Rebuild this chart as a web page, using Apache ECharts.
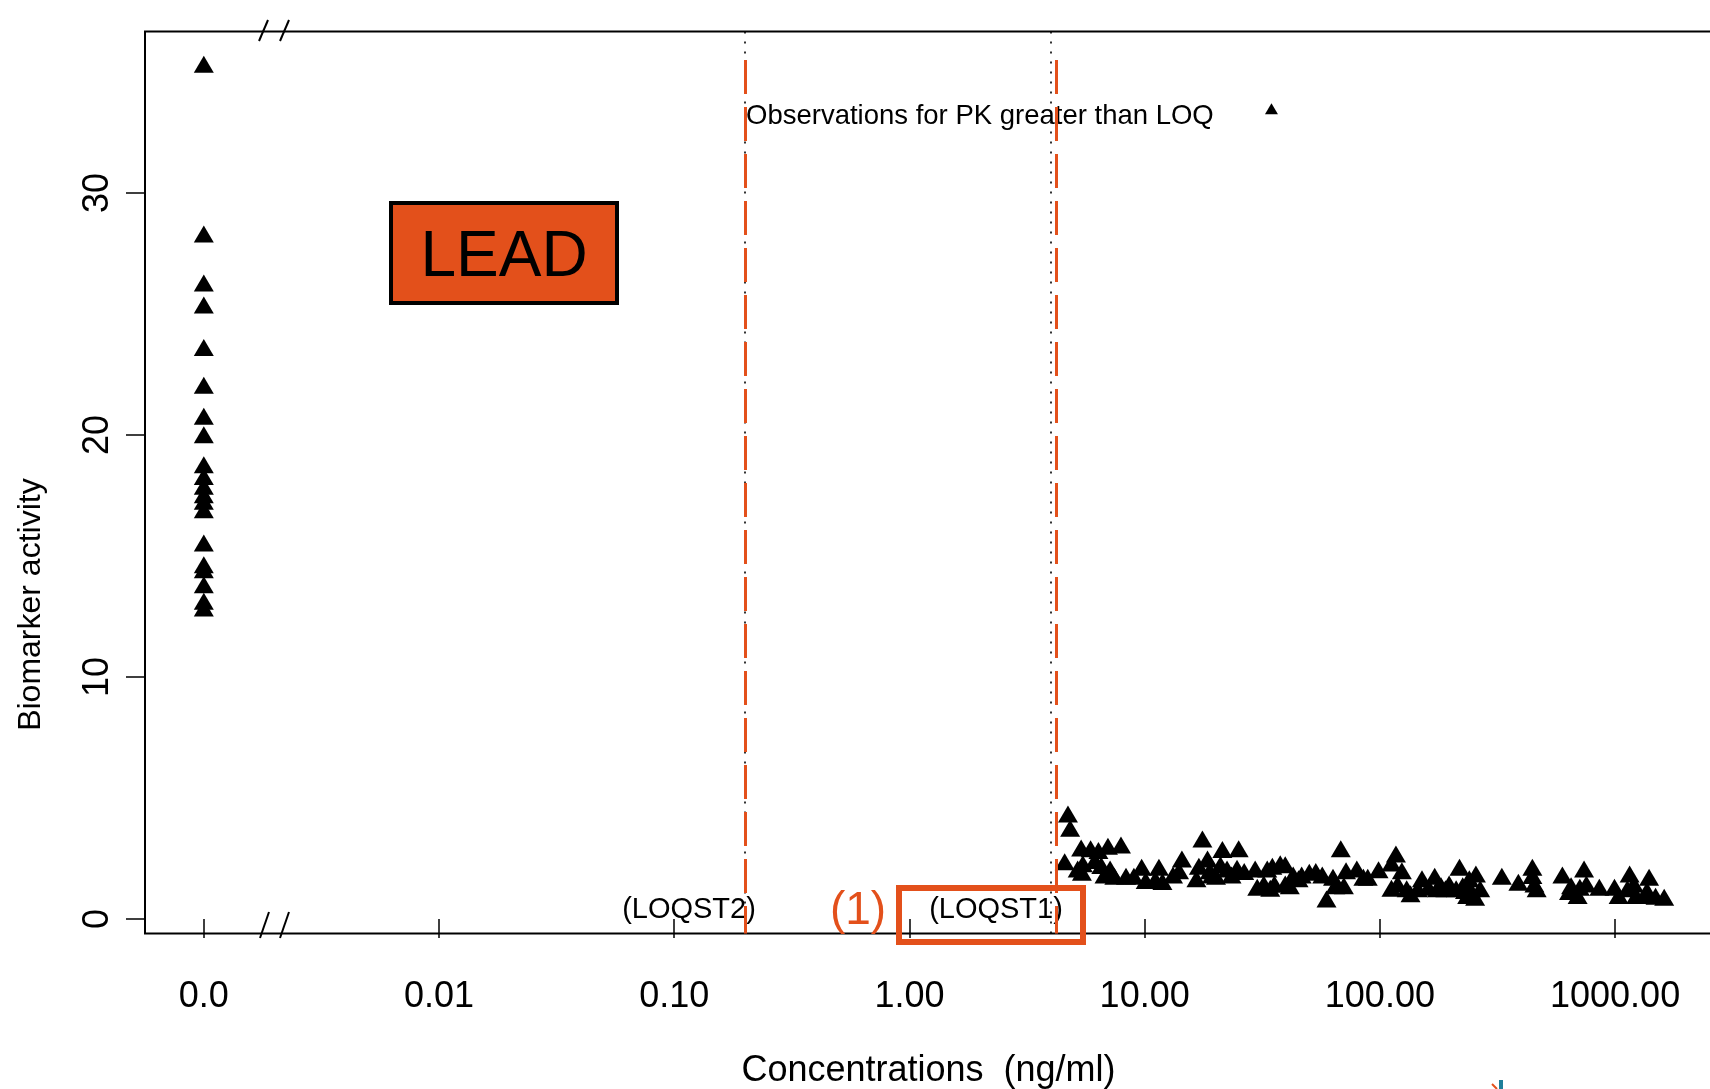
<!DOCTYPE html>
<html>
<head>
<meta charset="utf-8">
<script src="https://cdn.jsdelivr.net/npm/echarts@6/dist/echarts.min.js"></script>
<style>
html,body{margin:0;padding:0;background:#fff;}
#chart{width:1710px;height:1089px;}
</style>
</head>
<body>
<div id="chart"></div>
<script>
// ---------- data ----------
// concentration 0 is shown at the "0.0" position of the log axis
const ZERO_CONC_POSITION = 0.001;
const ZERO_GROUP_ACTIVITY = [35.26, 28.24, 26.22, 25.31, 23.56, 22.00, 20.71, 19.95, 18.71, 18.23,
  17.82, 17.47, 17.20, 16.85, 15.48, 14.58, 14.37, 13.75, 13.07, 12.79];

const PK_CONC = [4.72, 4.82, 4.57, 5.37, 5.46, 5.41, 5.89, 6.36, 6.98, 7.93,
  6.14, 6.54, 7.13, 6.75, 7.43, 8.33, 9.71, 10.1, 11.5, 11.1,
  11.9, 13.2, 14.4, 14.0, 16.6, 17.6, 18.5, 18.9, 19.3, 21.4,
  25.1, 21.0, 22.4, 23.4, 24.7, 26.5, 29.5, 32.1, 33.2, 34.9,
  35.6, 37.7, 39.6, 39.6, 42.8, 46.5, 50.1, 53.4, 56.9, 59.3,
  63.2, 68.2, 64.6, 70.3, 71.8, 79.8, 85.1, 88.8, 98.7, 112,
  117, 124, 112, 119, 135, 151, 171, 182, 197, 218,
  225, 256, 243, 254, 267, 330, 388, 445, 454, 464,
  597, 637, 693, 738, 755, 857, 994, 1153, 1128, 1228,
  1395, 1366, 1617, 1486, 1202, 30.1, 34.2, 41.4, 45.1, 130,
  145, 161, 175, 190, 211, 230, 235, 650, 708, 1035,
  1337, 445, 240, 17.0, 20.1, 9.0, 5.19];
const PK_ACTIVITY = [4.28, 3.69, 2.31, 2.87, 2.22, 1.87, 2.84, 2.77, 2.95, 3.00,
  2.36, 2.15, 2.01, 1.76, 1.71, 1.71, 2.08, 1.53, 2.08, 1.57,
  1.49, 1.76, 2.42, 1.94, 1.60, 3.25, 2.42, 1.94, 1.76, 2.81,
  2.84, 2.18, 2.01, 1.76, 2.04, 1.90, 2.01, 1.39, 2.01, 2.12,
  1.39, 2.22, 2.18, 1.39, 1.76, 1.76, 1.87, 1.90, 1.76, 0.77,
  1.67, 2.84, 1.32, 1.32, 1.94, 2.01, 1.67, 1.67, 1.98, 2.26,
  2.63, 1.94, 1.21, 1.39, 0.98, 1.60, 1.71, 1.32, 1.39, 2.08,
  1.32, 1.80, 1.16, 0.84, 1.19, 1.71, 1.46, 2.08, 1.39, 1.19,
  1.76, 1.08, 0.91, 2.01, 1.39, 1.25, 1.25, 1.80, 1.19, 0.91,
  1.67, 1.12, 0.84, 0.88, 1.39, 1.25, 1.21, 1.32, 1.60, 1.19,
  1.19, 1.25, 1.19, 1.19, 1.19, 1.12, 0.91, 1.32, 1.25, 0.91,
  0.91, 1.74, 1.60, 2.12, 1.71, 1.71, 2.01];

const LEGEND_KEY_POINT = [34.6, 33.44];
const LOQ_VALUES = [0.2, 4.0];          // dotted black reference lines
const HIGHLIGHT_LINE_VALUES = [0.2, 4.2]; // orange dashed overlay lines
const HIGHLIGHT_LINE_TOP = 35.5;

const X_TICK_VALUES = [0.001, 0.01, 0.1, 1, 10, 100, 1000];
const X_TICK_LABELS = ['0.0', '0.01', '0.10', '1.00', '10.00', '100.00', '1000.00'];
const Y_TICK_VALUES = [0, 10, 20, 30];

const X_MIN = Math.pow(10, -3.25);
const X_MAX = Math.pow(10, 3.412);
const Y_MIN = -0.6, Y_MAX = 36.67;

// ---------- chart ----------
const ORANGE = '#E3501B';
const FONT = '"Liberation Sans", Arial, Helvetica, sans-serif';
const chart = echarts.init(document.getElementById('chart'), null, {renderer: 'canvas'});

const zeroData = ZERO_GROUP_ACTIVITY.map(v => [ZERO_CONC_POSITION, v]);
const pkData = PK_CONC.map((c, i) => [c, PK_ACTIVITY[i]]);

function vline(v, top) {
  return [{coord: [v, top]}, {coord: [v, Y_MIN]}];
}

const option = {
  animation: false,
  backgroundColor: '#fff',
  grid: {
    left: 145, top: 31.6, width: 1567, height: 902,
    outerBoundsMode: 'none', containLabel: false,
    show: true, borderColor: '#000', borderWidth: 2, backgroundColor: 'transparent'
  },
  xAxis: {
    type: 'log', logBase: 10, min: X_MIN, max: X_MAX,
    name: 'Concentrations  (ng/ml)', nameLocation: 'middle', nameGap: 119,
    nameTextStyle: {fontFamily: FONT, fontSize: 36, color: '#000'},
    axisLine: {show: false},
    axisTick: {show: true, inside: false, length: 19, customValues: X_TICK_VALUES,
      lineStyle: {color: '#000', width: 1.5}},
    axisLabel: {show: true, margin: 45, customValues: X_TICK_VALUES,
      fontFamily: FONT, fontSize: 36, color: '#000',
      formatter: v => {
        const i = X_TICK_VALUES.findIndex(t => Math.abs(Math.log10(t) - Math.log10(v)) < 1e-6);
        return i >= 0 ? X_TICK_LABELS[i] : '';
      }},
    splitLine: {show: false}, minorTick: {show: false}
  },
  yAxis: {
    type: 'value', min: Y_MIN, max: Y_MAX,
    name: 'Biomarker activity', nameLocation: 'middle', nameGap: 98, nameRotate: 90,
    nameTextStyle: {fontFamily: FONT, fontSize: 32, color: '#000', padding: [0, 244, 0, 0]},
    axisLine: {show: false},
    axisTick: {show: true, inside: false, length: 19, customValues: Y_TICK_VALUES,
      lineStyle: {color: '#000', width: 1.5}},
    axisLabel: {show: true, margin: 29, rotate: 90, customValues: Y_TICK_VALUES,
      fontFamily: FONT, fontSize: 36, color: '#000'},
    splitLine: {show: false}
  },
  series: [
    {
      type: 'scatter', name: 'zero', data: zeroData,
      symbol: 'triangle', symbolSize: [20, 17], symbolOffset: [0, -1.5],
      itemStyle: {color: '#000', opacity: 1}, silent: true,
      markLine: {
        silent: true, symbol: ['none', 'none'], label: {show: false}, animation: false,
        lineStyle: {color: '#000', type: [2, 8], width: 1.6},
        data: LOQ_VALUES.map(v => vline(v, Y_MAX))
      }
    },
    {
      type: 'scatter', name: 'pk', data: pkData,
      symbol: 'triangle', symbolSize: [20, 17], symbolOffset: [0, -1.5],
      itemStyle: {color: '#000', opacity: 1}, silent: true,
      markLine: {
        silent: true, symbol: ['none', 'none'], label: {show: false}, animation: false,
        lineStyle: {color: ORANGE, type: [34, 13], width: 3},
        data: HIGHLIGHT_LINE_VALUES.map(v => vline(v, HIGHLIGHT_LINE_TOP))
      }
    },
    {
      type: 'scatter', name: 'legendKey', data: [LEGEND_KEY_POINT],
      symbol: 'triangle', symbolSize: [13, 11], symbolOffset: [0, -1],
      itemStyle: {color: '#000', opacity: 1}, silent: true
    }
  ],
  graphic: [
    // axis break marks (top and bottom)
    {type: 'line', shape: {x1: 259, y1: 41, x2: 268, y2: 20}, style: {stroke: '#000', lineWidth: 2}},
    {type: 'line', shape: {x1: 280, y1: 41, x2: 289, y2: 20}, style: {stroke: '#000', lineWidth: 2}},
    {type: 'line', shape: {x1: 260, y1: 938, x2: 269, y2: 912}, style: {stroke: '#000', lineWidth: 2}},
    {type: 'line', shape: {x1: 280, y1: 938, x2: 289, y2: 912}, style: {stroke: '#000', lineWidth: 2}},
    // LEAD box
    {type: 'rect', shape: {x: 391, y: 203, width: 226, height: 100},
      style: {fill: ORANGE, stroke: '#000', lineWidth: 4}},
    {type: 'text', x: 504, y: 258, style: {text: 'LEAD', font: '64px ' + FONT, fill: '#000',
      textAlign: 'center', textVerticalAlign: 'middle'}},
    // annotation texts
    {type: 'text', x: 746, y: 116, style: {text: 'Observations for PK greater than LOQ',
      font: '27.5px ' + FONT, fill: '#000', textAlign: 'left', textVerticalAlign: 'middle'}},
    {type: 'text', x: 689, y: 910, style: {text: '(LOQST2)', font: '29px ' + FONT, fill: '#000',
      textAlign: 'center', textVerticalAlign: 'middle'}},
    {type: 'text', x: 996, y: 910, style: {text: '(LOQST1)', font: '29px ' + FONT, fill: '#000',
      textAlign: 'center', textVerticalAlign: 'middle'}},
    // highlight box (1)
    {type: 'rect', shape: {x: 899, y: 888, width: 184, height: 54},
      style: {fill: 'none', stroke: ORANGE, lineWidth: 6}},
    {type: 'text', x: 858, y: 911, style: {text: '(1)', font: '46px ' + FONT, fill: ORANGE,
      textAlign: 'center', textVerticalAlign: 'middle'}},
    // logo fragment at bottom edge
    {type: 'rect', shape: {x: 1499, y: 1080, width: 4, height: 9}, style: {fill: '#1E7F9A'}},
    {type: 'line', shape: {x1: 1492, y1: 1084, x2: 1497, y2: 1089}, style: {stroke: ORANGE, lineWidth: 2}}
  ]
};
chart.setOption(option);
</script>
</body>
</html>
